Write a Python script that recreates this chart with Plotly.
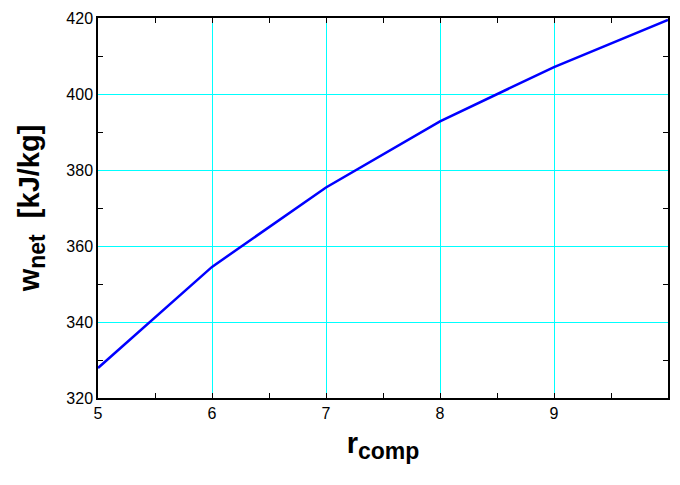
import plotly.graph_objects as go

r_comp = [5, 6, 7, 8, 9, 10]
w_net = [327.9, 354.5, 375.4, 392.8, 407.1, 419.5]
x_tick_vals = [5, 6, 7, 8, 9, 10]
x_tick_text = ["5", "6", "7", "8", "9", "10\u2002"]

FONT = "Liberation Sans, Arial, sans-serif"

fig = go.Figure()
fig.add_trace(go.Scatter(x=r_comp, y=w_net, mode="lines",
                         line=dict(color="#0000FF", width=2.5, shape="linear"),
                         showlegend=False))

axis_common = dict(
    showline=True, linecolor="black", linewidth=1.5, mirror="allticks",
    showgrid=True, gridcolor="#00FFFF", gridwidth=1,
    ticks="inside", ticklen=0, tickcolor="black",
    zeroline=False, automargin=False,
    tickfont=dict(family=FONT, size=16, color="black"),
    minor=dict(ticks="inside", ticklen=5, tickcolor="black", tickwidth=1,
               showgrid=False, gridcolor="#00FFFF"),
)

fig.update_xaxes(**axis_common)
fig.update_yaxes(**axis_common)

fig.update_xaxes(range=[5, 10], tickmode="array", tickvals=x_tick_vals, ticktext=x_tick_text,
                 minor_tickmode="linear", minor_tick0=5, minor_dtick=0.5,
                 title=dict(text='<b>r<sub><span style="font-size:23px">comp</span></sub></b>',
                            font=dict(family=FONT, size=29, color="black"),
                            standoff=12))
fig.update_yaxes(range=[320, 420], dtick=20, tick0=320, minor_dtick=10,
                 title=dict(text='<b>w<sub><span style="font-size:23px">net</span></sub>  [kJ/kg]</b>',
                            font=dict(family=FONT, size=29, color="black"),
                            standoff=18))

fig.update_layout(
    template="none",
    width=672, height=469,
    margin=dict(l=90, r=12, t=10, b=79),
    plot_bgcolor="white", paper_bgcolor="white",
)

fig.write_html("out.html")
